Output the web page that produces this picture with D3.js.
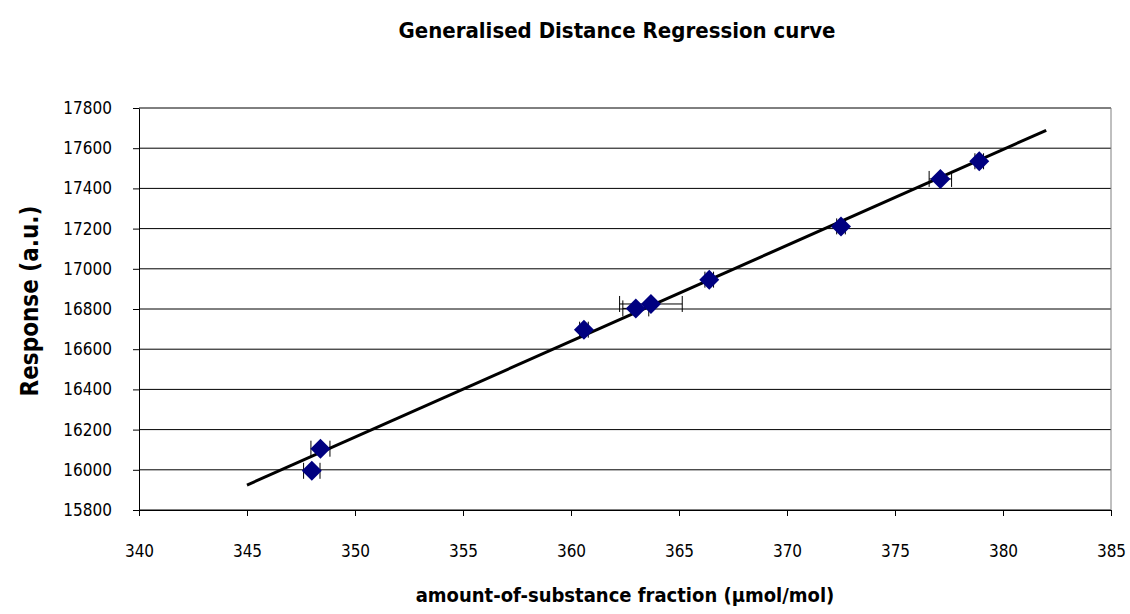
<!DOCTYPE html>
<html>
<head>
    <script src="https://d3js.org/d3.v7.min.js"></script>
    <style>
        body { margin: 0; background: #fff; }
        text { font-family: "DejaVu Sans Condensed", "DejaVu Sans", sans-serif; font-stretch: condensed; fill: #000; }
        .tick text { font-size: 17px; }
        .title { font-weight: bold; }
    </style>
</head>
<body>
    <svg width="1130" height="614"></svg>
    <script>
        // values
        var xVals = [348.0, 348.4, 360.6, 363.0, 363.7, 366.4, 372.5, 377.1, 378.9];
        var yVals = [15995, 16105, 16697, 16803, 16825, 16946, 17211, 17447, 17535];
        var xErr  = [0.38, 0.44, 0.2, 0.6, 1.45, 0.2, 0.2, 0.52, 0.2];
        var fitX = [345, 382];
        var fitY = [15924, 17689];
        var xTicks = d3.range(340, 386, 5);
        var yTicks = d3.range(15800, 17801, 200);

        var svg = d3.select("svg"),
            margin = {top: 108, right: 19, bottom: 104, left: 139},
            width = +svg.attr("width") - margin.left - margin.right,
            height = +svg.attr("height") - margin.top - margin.bottom;

        var x = d3.scaleLinear().domain([340, 385]).range([0, width]),
            y = d3.scaleLinear().domain([15800, 17800]).range([height, 0]);

        var g = svg.append("g")
            .attr("transform", "translate(" + margin.left + "," + margin.top + ")");

        // horizontal gridlines
        g.append("g").selectAll("line")
            .data(yTicks)
            .enter().append("line")
            .attr("x1", 0).attr("x2", width)
            .attr("y1", function(d) { return y(d); })
            .attr("y2", function(d) { return y(d); })
            .attr("stroke", "#000")
            .attr("stroke-width", 1);

        // plot area border on the right
        g.append("line")
            .attr("x1", width).attr("x2", width)
            .attr("y1", 0).attr("y2", height)
            .attr("stroke", "#808080");

        var xAxis = d3.axisBottom(x).tickValues(xTicks).tickFormat(d3.format("d"))
                .tickSize(6).tickSizeOuter(0).tickPadding(29),
            yAxis = d3.axisLeft(y).tickValues(yTicks).tickFormat(d3.format("d"))
                .tickSize(6).tickSizeOuter(0).tickPadding(21);

        g.append("g")
            .attr("transform", "translate(0," + height + ")")
            .call(xAxis);
        g.append("g").call(yAxis);
        g.selectAll(".domain, .tick line").attr("stroke", "#000");

        // trend line
        var line = d3.line()
            .x(function(d) { return x(d[0]); })
            .y(function(d) { return y(d[1]); });
        g.append("path")
            .datum(d3.zip(fitX, fitY))
            .attr("fill", "none")
            .attr("stroke", "#000")
            .attr("stroke-width", 3)
            .attr("d", line);

        var pts = d3.range(xVals.length).map(function(i) {
            return {x: xVals[i], y: yVals[i], e: xErr[i]};
        });

        // horizontal error bars
        var eb = g.append("g").selectAll("g")
            .data(pts)
            .enter().append("g")
            .attr("stroke", "#000")
            .attr("stroke-width", 1);
        eb.append("line")
            .attr("x1", function(d) { return x(d.x - d.e); })
            .attr("x2", function(d) { return x(d.x + d.e); })
            .attr("y1", function(d) { return y(d.y); })
            .attr("y2", function(d) { return y(d.y); });
        eb.append("line")
            .attr("x1", function(d) { return x(d.x - d.e); })
            .attr("x2", function(d) { return x(d.x - d.e); })
            .attr("y1", function(d) { return y(d.y) - 8; })
            .attr("y2", function(d) { return y(d.y) + 8; });
        eb.append("line")
            .attr("x1", function(d) { return x(d.x + d.e); })
            .attr("x2", function(d) { return x(d.x + d.e); })
            .attr("y1", function(d) { return y(d.y) - 8; })
            .attr("y2", function(d) { return y(d.y) + 8; });

        // diamond markers
        g.append("g").selectAll("path")
            .data(pts)
            .enter().append("path")
            .attr("transform", function(d) { return "translate(" + x(d.x) + "," + y(d.y) + ")"; })
            .attr("d", "M0,-10L10,0L0,10L-10,0Z")
            .attr("fill", "#000080");

        // titles
        svg.append("text")
            .attr("class", "title")
            .attr("x", 617).attr("y", 38)
            .attr("text-anchor", "middle")
            .style("font-size", "22px")
            .text("Generalised Distance Regression curve");

        svg.append("text")
            .attr("class", "title")
            .attr("x", margin.left + width / 2).attr("y", 602)
            .attr("text-anchor", "middle")
            .style("font-size", "20px")
            .text("amount-of-substance fraction (µmol/mol)");

        svg.append("text")
            .attr("class", "title")
            .attr("transform", "translate(38," + (margin.top + height / 2 - 8) + ") rotate(-90)")
            .attr("text-anchor", "middle")
            .style("font-size", "24px")
            .text("Response (a.u.)");
    </script>
</body>
</html>
